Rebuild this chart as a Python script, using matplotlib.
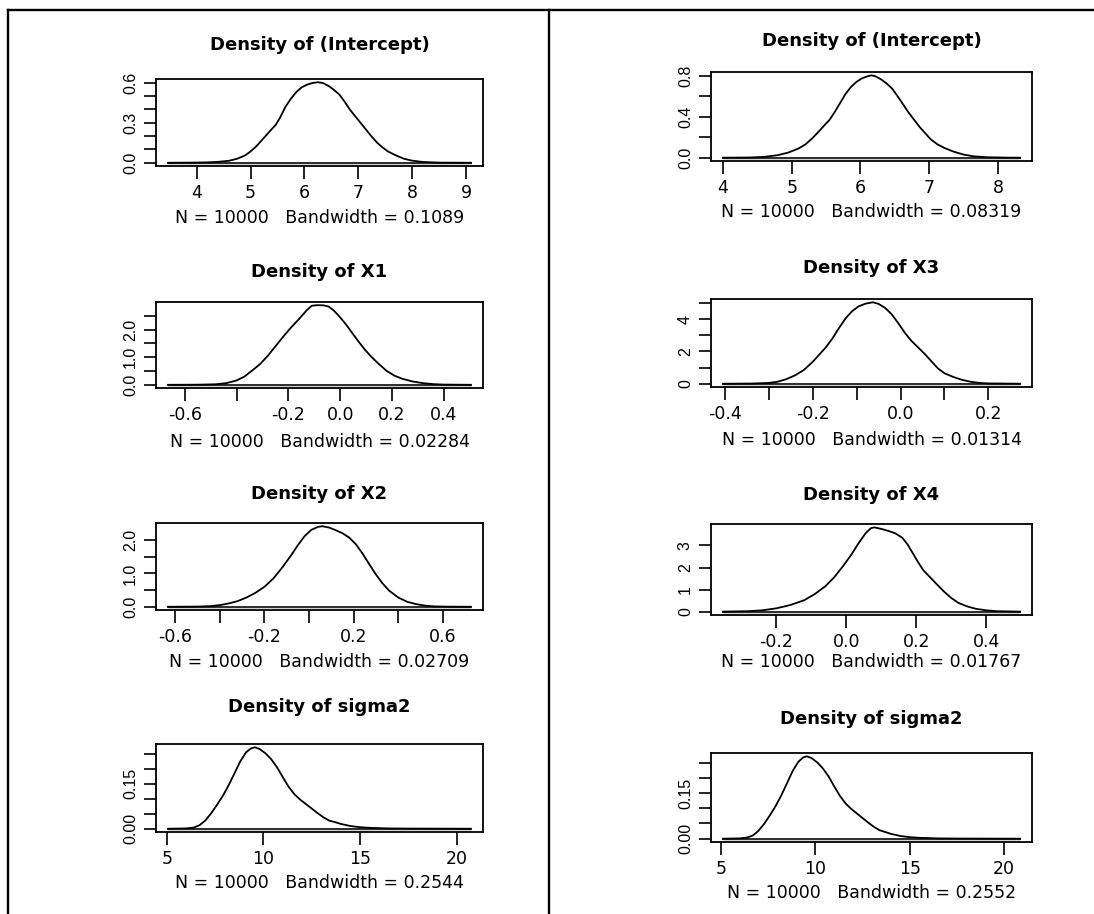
import numpy as np
import matplotlib.pyplot as plt
from matplotlib.lines import Line2D
from matplotlib import font_manager

W, H = 1094, 914

# posterior density curves
# left column
int1_x = [3.47, 3.9, 4.2, 4.4, 4.6, 4.75, 4.9, 5.0, 5.1, 5.2, 5.3, 5.4, 5.47, 5.55, 5.65, 5.75, 5.85, 5.95,
          6.05, 6.15, 6.25, 6.35, 6.45, 6.55, 6.65, 6.75, 6.85, 6.95, 7.05, 7.15, 7.25, 7.35, 7.45, 7.55,
          7.7, 7.85, 8.0, 8.2, 8.5, 9.09]
int1_y = [0.0, 0.001, 0.003, 0.007, 0.015, 0.03, 0.055, 0.085, 0.12, 0.165, 0.21, 0.255, 0.285, 0.34, 0.42,
          0.48, 0.53, 0.565, 0.585, 0.597, 0.603, 0.596, 0.575, 0.545, 0.51, 0.455, 0.395, 0.345, 0.295,
          0.245, 0.195, 0.15, 0.115, 0.085, 0.055, 0.03, 0.016, 0.006, 0.001, 0.0]

x1_x = [-0.665, -0.55, -0.48, -0.44, -0.40, -0.37, -0.34, -0.31, -0.28, -0.25, -0.22, -0.19, -0.16, -0.13,
        -0.11, -0.09, -0.065, -0.045, -0.025, -0.005, 0.02, 0.045, 0.07, 0.095, 0.12, 0.15, 0.18, 0.21,
        0.24, 0.28, 0.32, 0.36, 0.40, 0.505]
x1_y = [0.0, 0.004, 0.02, 0.06, 0.16, 0.30, 0.52, 0.75, 1.05, 1.40, 1.75, 2.08, 2.38, 2.70,
        2.87, 2.89, 2.885, 2.84, 2.70, 2.50, 2.22, 1.90, 1.58, 1.28, 1.02, 0.75, 0.50, 0.33,
        0.22, 0.12, 0.06, 0.025, 0.008, 0.0]

x2_x = [-0.632, -0.50, -0.44, -0.40, -0.36, -0.32, -0.28, -0.24, -0.20, -0.16, -0.12, -0.08, -0.05, -0.02,
        0.01, 0.04, 0.06, 0.09, 0.12, 0.15, 0.18, 0.21, 0.24, 0.27, 0.30, 0.33, 0.36, 0.40, 0.44, 0.48,
        0.52, 0.56, 0.62, 0.726]
x2_y = [0.0, 0.005, 0.02, 0.05, 0.10, 0.17, 0.28, 0.42, 0.60, 0.85, 1.18, 1.55, 1.85, 2.12,
        2.31, 2.40, 2.42, 2.38, 2.30, 2.21, 2.08, 1.88, 1.60, 1.28, 0.97, 0.70, 0.48, 0.28, 0.15, 0.08,
        0.035, 0.012, 0.003, 0.0]

sig1_x = [5.07, 6.0, 6.4, 6.7, 7.0, 7.3, 7.6, 7.9, 8.2, 8.5, 8.8, 9.1, 9.35, 9.55, 9.8, 10.1, 10.4, 10.7,
          11.0, 11.3, 11.6, 11.9, 12.2, 12.5, 12.8, 13.1, 13.4, 13.7, 14.0, 14.5, 15.0, 15.5, 16.5, 17.5, 20.72]
sig1_y = [0.0, 0.001, 0.004, 0.012, 0.028, 0.052, 0.08, 0.11, 0.145, 0.185, 0.225, 0.255, 0.268, 0.272,
          0.266, 0.252, 0.232, 0.205, 0.172, 0.14, 0.115, 0.097, 0.082, 0.067, 0.052, 0.038, 0.027, 0.022,
          0.016, 0.009, 0.005, 0.003, 0.001, 0.0005, 0.0]

# right column
int2_x = [4.00, 4.4, 4.6, 4.8, 4.95, 5.1, 5.2, 5.3, 5.4, 5.48, 5.55, 5.62, 5.7, 5.78, 5.86, 5.94, 6.02, 6.1,
          6.16, 6.22, 6.3, 6.38, 6.46, 6.54, 6.62, 6.7, 6.78, 6.86, 6.94, 7.02, 7.12, 7.22, 7.35, 7.5, 7.65,
          7.85, 8.1, 8.32]
int2_y = [0.0, 0.002, 0.008, 0.025, 0.05, 0.09, 0.13, 0.19, 0.26, 0.32, 0.37, 0.44, 0.53, 0.62, 0.69, 0.74,
          0.775, 0.795, 0.805, 0.795, 0.765, 0.725, 0.675, 0.60, 0.52, 0.44, 0.37, 0.30, 0.24, 0.18, 0.13,
          0.095, 0.06, 0.03, 0.013, 0.004, 0.001, 0.0]

x3_x = [-0.404, -0.34, -0.30, -0.28, -0.26, -0.24, -0.22, -0.20, -0.185, -0.17, -0.155, -0.14, -0.125,
        -0.11, -0.095, -0.08, -0.063, -0.05, -0.035, -0.02, -0.005, 0.01, 0.025, 0.04, 0.055, 0.07, 0.085,
        0.10, 0.12, 0.14, 0.16, 0.18, 0.20, 0.272]
x3_y = [0.0, 0.01, 0.05, 0.12, 0.28, 0.52, 0.85, 1.35, 1.80, 2.25, 2.80, 3.45, 4.05,
        4.50, 4.80, 4.96, 5.05, 4.95, 4.70, 4.30, 3.75, 3.15, 2.65, 2.25, 1.85, 1.40, 0.95,
        0.65, 0.42, 0.24, 0.12, 0.05, 0.02, 0.0]

x4_x = [-0.353, -0.28, -0.24, -0.20, -0.16, -0.12, -0.09, -0.06, -0.035, -0.01, 0.015, 0.035, 0.055, 0.07,
        0.08, 0.10, 0.12, 0.14, 0.16, 0.175, 0.19, 0.205, 0.22, 0.24, 0.26, 0.28, 0.30, 0.32, 0.345, 0.37,
        0.40, 0.43, 0.497]
x4_y = [0.0, 0.02, 0.06, 0.15, 0.30, 0.52, 0.80, 1.15, 1.55, 2.05, 2.60, 3.10, 3.55, 3.78,
        3.82, 3.75, 3.66, 3.55, 3.35, 3.05, 2.65, 2.25, 1.88, 1.55, 1.22, 0.90, 0.62, 0.40, 0.24, 0.13,
        0.06, 0.02, 0.0]

sig2_x = [5.10, 6.0, 6.4, 6.7, 7.0, 7.3, 7.6, 7.9, 8.2, 8.5, 8.8, 9.1, 9.35, 9.55, 9.8, 10.1, 10.4, 10.7,
          11.0, 11.3, 11.6, 11.9, 12.2, 12.5, 12.8, 13.1, 13.4, 13.7, 14.0, 14.5, 15.0, 15.5, 16.5, 17.5, 20.85]
sig2_y = [0.0, 0.001, 0.004, 0.011, 0.027, 0.05, 0.078, 0.108, 0.143, 0.183, 0.223, 0.253, 0.267, 0.271,
          0.265, 0.251, 0.231, 0.205, 0.172, 0.141, 0.116, 0.098, 0.083, 0.068, 0.053, 0.039, 0.028, 0.022,
          0.016, 0.009, 0.005, 0.003, 0.001, 0.0005, 0.0]

titles = ["Density of (Intercept)", "Density of X1", "Density of X2", "Density of sigma2",
          "Density of (Intercept)", "Density of X3", "Density of X4", "Density of sigma2"]
bandwidths = ["0.1089", "0.02284", "0.02709", "0.2544", "0.08319", "0.01314", "0.01767", "0.2552"]
n_iter = 10000

xticks = [[4, 5, 6, 7, 8, 9],
          [-0.6, -0.4, -0.2, 0.0, 0.2, 0.4],
          [-0.6, -0.4, -0.2, 0.0, 0.2, 0.4, 0.6],
          [5, 10, 15, 20],
          [4, 5, 6, 7, 8],
          [-0.4, -0.3, -0.2, -0.1, 0.0, 0.1, 0.2],
          [-0.2, 0.0, 0.2, 0.4],
          [5, 10, 15, 20]]
xlabels = [["4", "5", "6", "7", "8", "9"],
           ["-0.6", "", "-0.2", "0.0", "0.2", "0.4"],
           ["-0.6", "", "-0.2", "", "0.2", "", "0.6"],
           ["5", "10", "15", "20"],
           ["4", "5", "6", "7", "8"],
           ["-0.4", "", "-0.2", "", "0.0", "", "0.2"],
           ["-0.2", "0.0", "0.2", "0.4"],
           ["5", "10", "15", "20"]]
yticks = [[0.0, 0.1, 0.2, 0.3, 0.4, 0.5, 0.6],
          [0.0, 0.5, 1.0, 1.5, 2.0, 2.5],
          [0.0, 0.5, 1.0, 1.5, 2.0],
          [0.0, 0.05, 0.10, 0.15, 0.20, 0.25],
          [0.0, 0.2, 0.4, 0.6, 0.8],
          [0, 1, 2, 3, 4, 5],
          [0, 1, 2, 3],
          [0.0, 0.05, 0.10, 0.15, 0.20, 0.25]]
ylabels = [["0.0", "", "", "0.3", "", "", "0.6"],
           ["0.0", "", "1.0", "", "2.0", ""],
           ["0.0", "", "1.0", "", "2.0"],
           ["0.00", "", "", "0.15", "", ""],
           ["0.0", "", "0.4", "", "0.8"],
           ["0", "", "2", "", "4", ""],
           ["0", "1", "2", "3"],
           ["0.00", "", "", "0.15", "", ""]]

curves = [(int1_x, int1_y), (x1_x, x1_y), (x2_x, x2_y), (sig1_x, sig1_y),
          (int2_x, int2_y), (x3_x, x3_y), (x4_x, x4_y), (sig2_x, sig2_y)]

# page layout in pixels: plot boxes (left, right) per column, (top, bottom) per panel
cols = [(156, 483), (711, 1032)]
rows = [(79, 166), (302, 388), (523, 610), (744, 832),
        (72, 161), (299, 387), (524, 615), (753, 842)]
title_y = [45, 272, 494, 707, 41, 268, 495, 719]
sub_y = [218, 442, 662, 883, 212, 440, 662, 893]

# the y labels look squeezed in the original; use a narrow face if there is one
installed = {f.name for f in font_manager.fontManager.ttflist}
narrow = next((n for n in ['Liberation Sans Narrow', 'DejaVu Sans Condensed'] if n in installed), None)
if narrow:
    ylab_font, ylab_size = narrow, 13
else:
    ylab_font, ylab_size = 'Liberation Sans', 11.5

fig = plt.figure(figsize=(W / 100, H / 100), dpi=100)
fig.patch.set_facecolor('white')

for i, (xs, ys) in enumerate(curves):
    x0, x1 = cols[i // 4]
    top, bot = rows[i]
    ax = fig.add_axes([x0 / W, 1 - bot / H, (x1 - x0) / W, (bot - top) / H])
    ax.margins(x=0.04, y=0.04)
    # faint grey fuzz plus the baseline along zero
    ax.plot([xs[0], xs[-1]], [0, 0], color='#d4d4d4', lw=2.2, solid_capstyle='butt')
    ax.plot([xs[0], xs[-1]], [0, 0], color='black', lw=1.1)
    ax.plot(xs, ys, color='black', lw=1.3, solid_joinstyle='round')

    ax.set_xticks(xticks[i])
    ax.set_xticklabels(xlabels[i], fontsize=12.5, family='DejaVu Sans')
    ax.set_yticks(yticks[i])
    ax.set_yticklabels(ylabels[i], fontsize=ylab_size, family=ylab_font, rotation=90, va='center')
    ax.tick_params(axis='both', direction='out', length=9, width=1.2, color='black')
    ax.tick_params(axis='x', pad=4)
    ax.tick_params(axis='y', pad=4)
    for sp in ax.spines.values():
        sp.set_linewidth(1.3)

    cx = (x0 + x1) / 2 / W
    fig.text(cx, 1 - title_y[i] / H, titles[i], ha='center', va='center',
             fontsize=13, fontweight='bold', family='DejaVu Sans')
    fig.text(cx, 1 - sub_y[i] / H, "N = %d   Bandwidth = %s" % (n_iter, bandwidths[i]),
             ha='center', va='center', fontsize=12.5, family='DejaVu Sans')

# outer frame: top rule, left rule and column divider
lw_frame = 1.7
fig.add_artist(Line2D([8 / W, 1], [1 - 10 / H, 1 - 10 / H], transform=fig.transFigure, color='black', lw=lw_frame))
fig.add_artist(Line2D([8 / W, 8 / W], [0, 1 - 10 / H], transform=fig.transFigure, color='black', lw=lw_frame))
fig.add_artist(Line2D([549 / W, 549 / W], [0, 1 - 10 / H], transform=fig.transFigure, color='black', lw=lw_frame))

fig.savefig('out.png', dpi=100)
